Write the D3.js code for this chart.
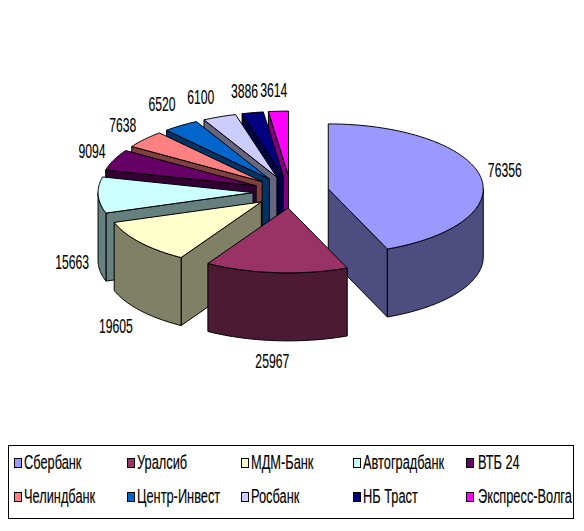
<!DOCTYPE html>
<html><head><meta charset="utf-8">
<script src="https://cdn.jsdelivr.net/npm/d3@7"></script>
<style>html,body{margin:0;padding:0;background:#fff}svg{display:block}
text{font-family:"Liberation Sans",Arial,sans-serif;fill:#000;stroke:#000;stroke-width:.15}</style></head>
<body><svg id="c" width="584" height="531"></svg>
<script>
const banks = ["Сбербанк","Уралсиб","МДМ-Банк","Автоградбанк","ВТБ 24","Челиндбанк","Центр-Инвест","Росбанк","НБ Траст","Экспресс-Волга"];
const amounts = [76356,25967,19605,15663,9094,7638,6520,6100,3886,3614];
const topColors = ["#9999FF","#993366","#FFFFCC","#CCFFFF","#660066","#FF8080","#0066CC","#CCCCFF","#000080","#FF00FF"];
const sideColors = ["#4D4D80","#4D1A33","#808066","#668080","#330033","#804040","#003366","#666680","#000040","#800080"];

const cx=291, cy=192, rx=155, ry=65, depth=68, explode=0.245;
const labelRx=26, labelRy=21;
const labelNudge=[[-1,0],[-2,1],[-4,4],[0,0],[2,1],[-2,1],[-4,-3],[-9,1],[-3,1],[-3,1]];

const svg=d3.select("#c");
const arcs=d3.pie().sort(null).startAngle(0).endAngle(2*Math.PI)(amounts);
const X=d3.scaleLinear().domain([-1,1]).range([-rx,rx]);
const Y=d3.scaleLinear().domain([-1,1]).range([ry,-ry]);
const pt=(o,a,dz=0)=>[o[0]+X(Math.sin(a)),o[1]+Y(Math.cos(a))+dz];
const rimAngles=(a0,a1)=>{const n=Math.max(2,Math.ceil((a1-a0)/0.02));return d3.range(n+1).map(i=>a0+(a1-a0)*i/n);};
const line=d3.line();

const slices=arcs.map((d,i)=>{
  const mid=(d.startAngle+d.endAngle)/2;
  const o=[cx+X(Math.sin(mid))*explode, cy+Y(Math.cos(mid))*explode];
  return {i,d,mid,o};
});

function poly(p,fill){
  svg.append("path").attr("d",line(p)+"Z").attr("fill",fill)
     .attr("stroke","#000").attr("stroke-width",1).attr("stroke-linejoin","round");
}
function drawSlice(s){
  const {d,o,i}=s, a0=d.startAngle, a1=d.endAngle;
  const side=sideColors[i], top=topColors[i];
  if(Math.sin(a0)<-1e-6){
    const r=pt(o,a0);
    poly([o,r,[r[0],r[1]+depth],[o[0],o[1]+depth]],side);
  }
  if(Math.sin(a1)>1e-6){
    const r=pt(o,a1);
    poly([o,r,[r[0],r[1]+depth],[o[0],o[1]+depth]],side);
  }
  const w0=Math.max(a0,Math.PI/2), w1=Math.min(a1,3*Math.PI/2);
  if(w1>w0){
    const as=rimAngles(w0,w1);
    poly(as.map(a=>pt(o,a)).concat(as.slice().reverse().map(a=>pt(o,a,depth))),side);
  }
  poly([o].concat(rimAngles(a0,a1).map(a=>pt(o,a))),top);
}
// painter's order: far slices first, nearest (Уралсиб) last
[9,8,7,6,5,4,3,2,0,1].forEach(i=>drawSlice(slices[i]));

function txt(x,y,t,anchor,squeeze){
  svg.append("text").attr("transform",`translate(${x},${y}) scale(${squeeze},1)`)
    .attr("font-size",20).attr("text-anchor",anchor).attr("dominant-baseline","middle").text(t);
}
slices.forEach(s=>{
  const r=pt(s.o,s.mid);
  const dz=(s.mid>Math.PI/2&&s.mid<3*Math.PI/2)?depth:0;
  const x=r[0]+labelRx*Math.sin(s.mid)+labelNudge[s.i][0];
  const y=r[1]+dz-labelRy*Math.cos(s.mid)+labelNudge[s.i][1];
  txt(x,y,amounts[s.i],"middle",0.61);
});

// legend
svg.append("rect").attr("x",8.5).attr("y",445.5).attr("width",565).attr("height",73)
  .attr("fill","#fff").attr("stroke","#000");
const colXs=[14,127,241,353,466];
const rowY=[463,497];
banks.forEach((b,i)=>{
  const col=i%5,row=Math.floor(i/5);
  svg.append("rect").attr("x",colXs[col]+.5).attr("y",rowY[row]-4.5).attr("width",7).attr("height",9)
    .attr("fill",topColors[i]).attr("stroke","#000");
  txt(colXs[col]+10+(col===4?2:0),rowY[row]+1,b,"start",0.64);
});
</script></body></html>
